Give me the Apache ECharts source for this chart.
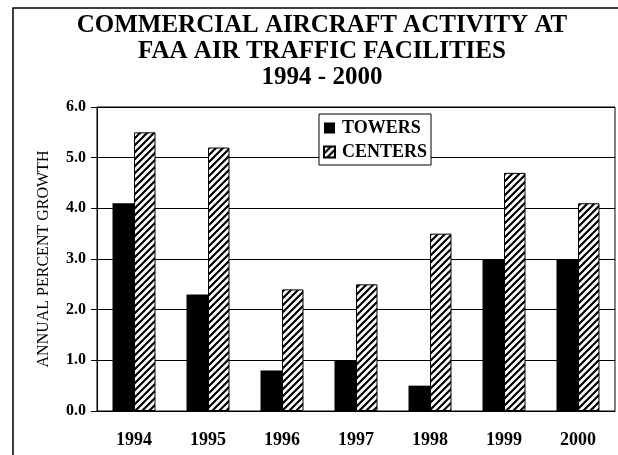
<!DOCTYPE html>
<html style="height: 100%">
    <head>
        <meta charset="utf-8">
    </head>
    <body style="height: 100%; margin: 0; background: #fff;">
        <div id="container" style="width: 618px; height: 455px;"></div>
        <script src="https://cdn.jsdelivr.net/npm/echarts@6/dist/echarts.min.js"></script>
        <script>
        var years = ['1994', '1995', '1996', '1997', '1998', '1999', '2000'];
        var towers = [4.1, 2.3, 0.8, 1.0, 0.5, 3.0, 3.0];
        var centers = [5.5, 5.2, 2.4, 2.5, 3.5, 4.7, 4.1];
        var yTicks = [0, 1, 2, 3, 4, 5, 6];

        var serif = "'Liberation Serif', 'Times New Roman', serif";

        // diagonal hatch for the CENTERS bars
        function makeHatch() {
            var c = document.createElement('canvas');
            c.width = 7;
            c.height = 7;
            var ctx = c.getContext('2d');
            ctx.fillStyle = '#fff';
            ctx.fillRect(0, 0, 7, 7);
            ctx.strokeStyle = '#000';
            ctx.lineWidth = 2.2;
            ctx.beginPath();
            ctx.moveTo(-1, 8); ctx.lineTo(8, -1);
            ctx.moveTo(-8, 8); ctx.lineTo(1, -1);
            ctx.moveTo(6, 8); ctx.lineTo(15, -1);
            ctx.stroke();
            return c;
        }

        var chart = echarts.init(document.getElementById('container'));

        var option = {
            animation: false,
            graphic: [{
                type: 'rect',
                shape: { x: 13, y: 8, width: 620, height: 460 },
                style: { fill: 'none', stroke: '#000', lineWidth: 1.5 },
                z: 0
            }, {
                type: 'text',
                x: 322,
                y: 13,
                style: {
                    text: 'COMMERCIAL AIRCRAFT ACTIVITY AT\nFAA AIR TRAFFIC FACILITIES\n1994 - 2000',
                    font: 'bold 25px ' + serif,
                    lineHeight: 26,
                    fill: '#000',
                    align: 'center',
                    verticalAlign: 'top'
                }
            }],
            legend: {
                orient: 'vertical',
                left: 319,
                top: 114,
                padding: [5, 4, 4, 4],
                itemGap: 6,
                itemWidth: 11,
                itemHeight: 11,
                backgroundColor: '#fff',
                borderColor: '#000',
                borderWidth: 1,
                borderRadius: 0,
                icon: 'rect',
                textStyle: { fontFamily: serif, fontWeight: 'bold', fontSize: 18, color: '#000', padding: [0, 0, 0, 2] },
                data: ['TOWERS', 'CENTERS']
            },
            grid: {
                left: 97,
                right: 3,
                top: 107,
                bottom: 44,
                show: true,
                borderColor: '#000',
                borderWidth: 1
            },
            xAxis: {
                type: 'category',
                data: years,
                axisLine: { lineStyle: { color: '#000', width: 1 } },
                axisTick: { show: false },
                axisLabel: { fontFamily: serif, fontWeight: 'bold', fontSize: 18, color: '#000', margin: 20 }
            },
            yAxis: {
                type: 'value',
                min: 0,
                max: 6,
                interval: 1,
                name: 'ANNUAL PERCENT GROWTH',
                nameLocation: 'middle',
                nameRotate: 90,
                nameGap: 45,
                nameTextStyle: { fontFamily: serif, fontSize: 16, color: '#000' },
                axisLine: { show: true, lineStyle: { color: '#000', width: 1 } },
                axisTick: { show: true, length: 6, lineStyle: { color: '#000' } },
                splitLine: { lineStyle: { color: '#000', width: 1 } },
                axisLabel: {
                    fontFamily: serif, fontWeight: 'bold', fontSize: 16, color: '#000', margin: 11,
                    formatter: function (v) { return yTicks.indexOf(v) >= 0 ? v.toFixed(1) : ''; }
                }
            },
            series: [{
                name: 'TOWERS',
                type: 'bar',
                data: towers,
                barWidth: 21.5,
                barGap: 0,
                itemStyle: { color: '#000' }
            }, {
                name: 'CENTERS',
                type: 'bar',
                data: centers,
                barWidth: 21.5,
                barGap: 0,
                itemStyle: { color: { image: makeHatch(), repeat: 'repeat' }, borderColor: '#000', borderWidth: 1 }
            }]
        };

        chart.setOption(option);
        </script>
    </body>
</html>
